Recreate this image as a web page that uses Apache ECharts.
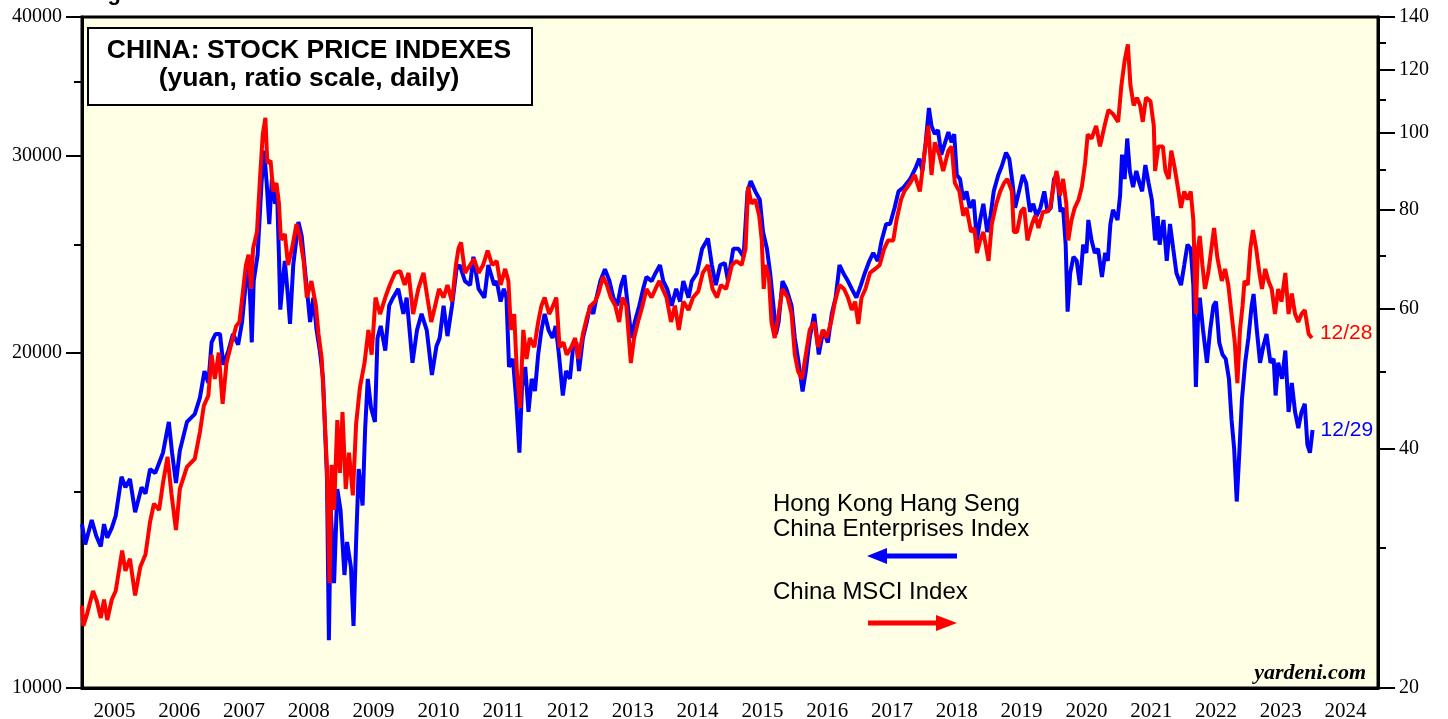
<!DOCTYPE html>
<html>
<head>
<meta charset="utf-8">
<title>China: Stock Price Indexes</title>
<script src="https://cdn.jsdelivr.net/npm/echarts@6/dist/echarts.min.js"></script>
<style>
  html, body { margin: 0; padding: 0; background: #fff; }
  #chart { width: 1448px; height: 719px; }
</style>
</head>
<body>
<div id="chart"></div>
<script>
// Hong Kong Hang Seng China Enterprises Index (left scale), decimal years
var hsceiYears = [
  2005.00, 2005.05, 2005.15, 2005.22, 2005.29, 2005.34, 2005.39, 2005.46, 2005.52, 2005.61, 2005.67, 2005.74, 2005.82, 2005.92, 2005.98,
  2006.05, 2006.13, 2006.19, 2006.25, 2006.34, 2006.39, 2006.45, 2006.51, 2006.62, 2006.74, 2006.82, 2006.89, 2006.95,
  2007.00, 2007.06, 2007.13, 2007.18, 2007.26, 2007.33, 2007.41, 2007.47, 2007.53, 2007.57, 2007.60, 2007.62, 2007.65, 2007.71, 2007.74, 2007.77, 2007.81, 2007.85, 2007.89, 2007.93, 2007.98,
  2008.01, 2008.04, 2008.06, 2008.11, 2008.13, 2008.18, 2008.21, 2008.26, 2008.34, 2008.39, 2008.47, 2008.52, 2008.57, 2008.62, 2008.67, 2008.72, 2008.78, 2008.81, 2008.84, 2008.89, 2008.94, 2008.99,
  2009.05, 2009.09, 2009.15, 2009.19, 2009.23, 2009.27, 2009.33, 2009.37, 2009.41, 2009.46, 2009.52, 2009.56, 2009.61, 2009.68, 2009.74, 2009.80, 2009.88, 2009.96,
  2010.01, 2010.10, 2010.17, 2010.24, 2010.32, 2010.40, 2010.47, 2010.52, 2010.58, 2010.64, 2010.71, 2010.78, 2010.83, 2010.91, 2010.99,
  2011.04, 2011.12, 2011.21, 2011.27, 2011.36, 2011.40, 2011.46, 2011.51, 2011.55, 2011.59, 2011.65, 2011.70, 2011.75, 2011.79, 2011.84, 2011.89, 2011.94, 2011.99,
  2012.04, 2012.09, 2012.14, 2012.20, 2012.26, 2012.31, 2012.36, 2012.42, 2012.47, 2012.53, 2012.58, 2012.63, 2012.67, 2012.73, 2012.79, 2012.84, 2012.89, 2012.94,
  2013.00, 2013.07, 2013.14, 2013.20, 2013.26, 2013.32, 2013.37, 2013.43, 2013.48, 2013.53, 2013.60, 2013.66, 2013.71, 2013.79, 2013.85, 2013.92, 2013.97,
  2014.03, 2014.10, 2014.17, 2014.23, 2014.28, 2014.36, 2014.41, 2014.49, 2014.57, 2014.66, 2014.72, 2014.78, 2014.85, 2014.92, 2014.97,
  2015.05, 2015.13, 2015.21, 2015.27, 2015.32, 2015.39, 2015.46, 2015.51, 2015.57, 2015.62, 2015.67, 2015.71, 2015.75, 2015.81, 2015.87, 2015.95,
  2016.00, 2016.05, 2016.12, 2016.17, 2016.23, 2016.30, 2016.37, 2016.44, 2016.51, 2016.57, 2016.63, 2016.69, 2016.75, 2016.82, 2016.88, 2016.95,
  2017.02, 2017.08, 2017.15, 2017.21, 2017.28, 2017.34, 2017.41, 2017.47, 2017.54, 2017.60, 2017.68, 2017.78, 2017.87, 2017.92, 2017.97,
  2018.02, 2018.07, 2018.11, 2018.16, 2018.21, 2018.26, 2018.32, 2018.37, 2018.42, 2018.46, 2018.50, 2018.55, 2018.60, 2018.65, 2018.70, 2018.76, 2018.81, 2018.86, 2018.91, 2018.97,
  2019.02, 2019.07, 2019.14, 2019.19, 2019.26, 2019.31, 2019.36, 2019.40, 2019.46, 2019.52, 2019.57, 2019.63, 2019.68, 2019.73, 2019.79, 2019.85, 2019.90, 2019.95,
  2020.00, 2020.05, 2020.10, 2020.14, 2020.18, 2020.21, 2020.25, 2020.30, 2020.35, 2020.40, 2020.45, 2020.50, 2020.53, 2020.58, 2020.63, 2020.68, 2020.74, 2020.79, 2020.83, 2020.87, 2020.91, 2020.98,
  2021.02, 2021.05, 2021.09, 2021.13, 2021.17, 2021.22, 2021.27, 2021.32, 2021.36, 2021.41, 2021.46, 2021.51, 2021.56, 2021.60, 2021.63, 2021.69, 2021.74, 2021.79, 2021.84, 2021.89, 2021.96,
  2022.01, 2022.06, 2022.11, 2022.15, 2022.19, 2022.22, 2022.25, 2022.30, 2022.36, 2022.41, 2022.46, 2022.50, 2022.55, 2022.60, 2022.65, 2022.70, 2022.74, 2022.78, 2022.82, 2022.86, 2022.90, 2022.95,
  2023.00, 2023.05, 2023.08, 2023.13, 2023.18, 2023.23, 2023.28, 2023.34, 2023.39, 2023.42, 2023.46, 2023.52, 2023.57, 2023.62, 2023.67, 2023.72, 2023.77, 2023.82, 2023.87, 2023.91, 2023.95, 2023.99
];
var hsceiValues = [
  14030, 13450, 14150, 13690, 13400, 14030, 13640, 13920, 14270, 15470, 15140, 15400, 14380, 15140, 14940,
  15720, 15590, 15920, 16260, 17330, 16260, 15270, 16330, 17330, 17610, 18220, 19250, 18780,
  20420, 20780, 20780, 19500, 20080, 20780, 20330, 21300, 23180, 23760, 22030, 20420, 23180, 24470, 26300, 28380, 30350, 28380, 26080, 28620, 27190,
  27900, 24370, 21850, 23560, 24170, 22400, 21220, 23960, 26190, 25440, 22810, 21300, 22400, 20950, 20080, 18940, 15470, 11040, 14440, 12420, 15080, 14440,
  12630, 13520, 12840, 11370, 13520, 15720, 14580, 17110, 18940, 17840, 17330, 20610, 21130, 20080, 22030, 22400, 22810, 21660,
  22400, 19580, 20950, 21660, 20950, 19090, 20260, 20610, 22030, 20690, 22030, 23760, 23960, 23180, 22990,
  24370, 22810, 22400, 23960, 22990, 23180, 22220, 22810, 22400, 19410, 19740, 18140, 16260, 18630, 19410, 17690, 18940, 18470,
  19920, 20950, 21660, 20950, 20610, 21130, 19920, 18300, 19250, 18940, 20260, 20420, 19250, 20610, 21300, 22030, 21660, 22400,
  23180, 23760, 23180, 22400, 22030, 22990, 23460, 21840, 20610, 21300, 22030, 22810, 23380, 23180, 23560, 23960, 23180,
  22810, 22030, 22810, 22220, 23180, 22400, 23180, 23560, 24780, 25310, 23960, 22990, 23960, 24060, 23180,
  24780, 24780, 24370, 27900, 28500, 27900, 27420, 25650, 24780, 23560, 22030, 20780, 21300, 23180, 22810, 22030,
  20610, 19740, 18450, 19250, 20610, 21660, 19920, 20950, 20420, 21660, 22400, 23960, 23560, 23180, 22810, 22400,
  22990, 23560, 24160, 24570, 24160, 25210, 26080, 26080, 26970, 27900, 28140, 28620, 29340, 29840, 29100,
  30870, 33150, 31930, 31410, 31670, 30100, 30870, 31530, 30870, 31410, 28860, 28620, 27420, 27900, 26970, 27420, 25210, 26300, 27190, 25650,
  26510, 27900, 28860, 29340, 30220, 29840, 28380, 26970, 27900, 28860, 28380, 26750, 27190, 26510, 26970, 27900, 26750, 26970,
  28620, 28860, 26750, 26970, 24990, 21760, 23560, 24370, 24170, 22990, 24990, 24570, 26300, 25210, 24570, 24780, 23380, 24570, 24170, 26080, 26860, 26300,
  27660, 30100, 28620, 31120, 29100, 28140, 29100, 28380, 27900, 29460, 28380, 27420, 25210, 26510, 24990, 26300, 24170, 26080, 24780, 23560, 22990,
  23960, 24990, 24780, 22990, 18630, 21300, 22400, 20950, 19580, 20950, 22030, 22220, 20420, 19920, 19740, 18940, 17400, 16400, 14700, 16260, 18140, 19580,
  20610, 22030, 22570, 20950, 19580, 20260, 20780, 19580, 19740, 18300, 19580, 18940, 20080, 17690, 18780, 17690, 17110, 17690, 17990, 16530, 16260, 17040
];

// China MSCI Index (right scale), decimal years
var msciYears = [
  2005.00, 2005.02, 2005.07, 2005.17, 2005.23, 2005.29, 2005.34, 2005.39, 2005.46, 2005.52, 2005.62, 2005.67, 2005.74, 2005.82, 2005.90, 2005.98,
  2006.05, 2006.11, 2006.19, 2006.25, 2006.32, 2006.38, 2006.45, 2006.51, 2006.62, 2006.74, 2006.82, 2006.88, 2006.95,
  2007.00, 2007.05, 2007.11, 2007.17, 2007.23, 2007.31, 2007.38, 2007.43, 2007.48, 2007.53, 2007.57, 2007.61, 2007.64, 2007.70, 2007.75, 2007.79, 2007.83, 2007.86, 2007.91, 2007.95,
  2008.00, 2008.04, 2008.07, 2008.13, 2008.18, 2008.24, 2008.31, 2008.36, 2008.42, 2008.47, 2008.54, 2008.61, 2008.65, 2008.70, 2008.74, 2008.78, 2008.82, 2008.85, 2008.89, 2008.94, 2008.98,
  2009.02, 2009.07, 2009.12, 2009.18, 2009.23, 2009.29, 2009.36, 2009.42, 2009.47, 2009.53, 2009.60, 2009.68, 2009.75, 2009.83, 2009.91, 2009.98,
  2010.04, 2010.11, 2010.19, 2010.27, 2010.33, 2010.39, 2010.45, 2010.51, 2010.58, 2010.64, 2010.71, 2010.77, 2010.81, 2010.85, 2010.91, 2010.99,
  2011.05, 2011.12, 2011.19, 2011.26, 2011.33, 2011.40, 2011.46, 2011.53, 2011.58, 2011.62, 2011.67, 2011.71, 2011.76, 2011.81, 2011.86, 2011.91, 2011.98,
  2012.04, 2012.09, 2012.14, 2012.21, 2012.27, 2012.32, 2012.37, 2012.43, 2012.48, 2012.55, 2012.61, 2012.66, 2012.73, 2012.79, 2012.85, 2012.92, 2012.97,
  2013.04, 2013.10, 2013.16, 2013.23, 2013.29, 2013.34, 2013.40, 2013.47, 2013.52, 2013.58, 2013.65, 2013.71, 2013.79, 2013.85, 2013.91, 2013.96,
  2014.02, 2014.09, 2014.15, 2014.21, 2014.28, 2014.36, 2014.43, 2014.51, 2014.58, 2014.66, 2014.73, 2014.80, 2014.86, 2014.94,
  2015.03, 2015.10, 2015.18, 2015.24, 2015.28, 2015.33, 2015.39, 2015.45, 2015.49, 2015.52, 2015.55, 2015.60, 2015.64, 2015.69, 2015.75, 2015.81, 2015.89, 2015.95,
  2016.00, 2016.05, 2016.11, 2016.17, 2016.23, 2016.30, 2016.36, 2016.43, 2016.49, 2016.56, 2016.62, 2016.69, 2016.76, 2016.82, 2016.88, 2016.93, 2016.98,
  2017.03, 2017.09, 2017.16, 2017.24, 2017.31, 2017.38, 2017.44, 2017.52, 2017.57, 2017.64, 2017.69, 2017.78, 2017.85, 2017.93, 2017.99,
  2018.06, 2018.11, 2018.16, 2018.23, 2018.29, 2018.37, 2018.42, 2018.47, 2018.54, 2018.60, 2018.65, 2018.72, 2018.77, 2018.81, 2018.86, 2018.91, 2018.99,
  2019.04, 2019.11, 2019.17, 2019.23, 2019.28, 2019.35, 2019.38, 2019.43, 2019.49, 2019.54, 2019.59, 2019.66, 2019.71, 2019.76, 2019.83, 2019.89, 2019.94,
  2020.00, 2020.04, 2020.09, 2020.14, 2020.19, 2020.22, 2020.27, 2020.32, 2020.38, 2020.43, 2020.48, 2020.52, 2020.58, 2020.65, 2020.71, 2020.78, 2020.84, 2020.91, 2020.99,
  2021.04, 2021.09, 2021.14, 2021.18, 2021.23, 2021.28, 2021.33, 2021.37, 2021.42, 2021.49, 2021.54, 2021.56, 2021.61, 2021.68, 2021.72, 2021.77, 2021.81, 2021.86, 2021.91, 2021.96,
  2022.01, 2022.06, 2022.11, 2022.15, 2022.19, 2022.22, 2022.25, 2022.29, 2022.33, 2022.38, 2022.42, 2022.47, 2022.52, 2022.59, 2022.64, 2022.69, 2022.74, 2022.79, 2022.83, 2022.87, 2022.91, 2022.94, 2022.99,
  2023.03, 2023.07, 2023.12, 2023.17, 2023.21, 2023.26, 2023.31, 2023.36, 2023.41, 2023.46, 2023.51, 2023.57, 2023.62, 2023.67, 2023.72, 2023.77, 2023.82, 2023.87, 2023.93, 2023.98
];
var msciValues = [
  25.39, 23.94, 24.65, 26.50, 25.70, 24.50, 25.85, 24.36, 25.85, 26.50, 29.80, 28.09, 29.10, 26.16, 28.42, 29.45,
  32.37, 34.13, 33.52, 36.24, 39.11, 35.16, 31.63, 35.62, 37.97, 38.88, 42.01, 45.35, 46.70,
  52.58, 49.00, 52.89, 45.61, 51.33, 54.49, 57.15, 57.81, 62.80, 68.20, 70.28, 63.62, 71.53, 75.05, 88.55, 99.7, 104.5, 91.67, 92.27, 84.42,
  86.51, 81.46, 73.33, 74.61, 68.20, 71.53, 76.81, 74.18, 69.04, 62.06, 65.11, 60.61, 55.83, 51.96, 44.52, 37.75, 27.12, 38.19, 33.52, 43.50, 37.31,
  44.52, 35.62, 39.56, 34.96, 43.00, 47.87, 51.33, 56.49, 52.58, 62.06, 59.16, 62.06, 64.36, 66.65, 67.00, 64.36,
  66.65, 59.16, 63.62, 66.65, 62.06, 57.81, 60.61, 63.62, 62.06, 64.36, 61.33, 68.20, 71.53, 72.82, 66.65, 68.20,
  69.44, 66.65, 68.20, 71.11, 68.20, 68.99, 64.36, 67.43, 65.11, 56.49, 59.16, 50.15, 45.07, 56.49, 51.93, 55.19, 53.74,
  57.81, 60.61, 62.06, 59.16, 60.61, 62.06, 53.74, 54.49, 52.58, 53.74, 55.19, 51.93, 55.83, 58.49, 60.61, 61.33, 62.80,
  65.88, 64.36, 62.06, 60.61, 57.81, 62.06, 60.61, 51.33, 55.19, 57.81, 60.61, 63.62, 62.06, 63.62, 65.11, 63.62,
  62.06, 57.81, 60.61, 56.49, 61.33, 59.86, 62.06, 63.17, 66.65, 68.20, 63.62, 62.06, 64.36, 63.62,
  68.20, 68.99, 68.20, 71.53, 85.57, 81.46, 82.46, 78.70, 73.24, 63.62, 68.20, 65.88, 57.81, 55.19, 59.16, 63.62, 62.06, 59.16,
  52.58, 50.15, 49.00, 52.58, 56.49, 57.81, 53.74, 56.49, 55.19, 57.81, 61.33, 64.36, 63.62, 62.06, 59.86, 61.33, 57.47,
  62.06, 63.62, 66.65, 67.43, 68.20, 71.53, 73.24, 73.24, 77.71, 82.46, 84.42, 86.51, 88.55, 84.42, 92.80,
  102.1, 88.55, 97.3, 93.9, 89.56, 95.0, 96.2, 86.51, 84.42, 78.70, 80.5, 75.05, 75.95, 70.63, 73.24, 75.05, 69.04,
  76.81, 81.46, 84.42, 86.51, 87.54, 84.42, 75.05, 75.05, 79.57, 80.5, 73.24, 76.81, 78.70, 75.95, 79.57, 79.57, 80.5,
  86.51, 89.56, 83.42, 87.54, 81.46, 73.24, 77.71, 80.5, 82.46, 85.57, 91.7, 99.6, 98.4, 102.1, 96.2, 102.1, 106.9, 105.7, 103.3,
  114.8, 123.3, 129.3, 114.8, 108.3, 110.8, 108.3, 103.3, 110.8, 109.6, 102.1, 89.56, 96.2, 96.2, 89.56, 87.54, 95.0, 90.6, 85.57, 80.5,
  84.42, 82.46, 84.42, 77.71, 59.16, 71.53, 74.18, 68.20, 63.62, 66.65, 70.63, 75.95, 69.77, 65.11, 67.43, 64.36, 59.16, 54.49, 48.43, 56.49, 60.61, 65.11, 64.36,
  71.53, 75.49, 71.53, 66.65, 63.62, 67.43, 65.11, 63.62, 59.16, 63.62, 61.33, 66.65, 59.16, 62.80, 59.16, 57.81, 59.16, 59.86, 55.83, 55.19
];

var yearLabels = ['2005', '2006', '2007', '2008', '2009', '2010', '2011', '2012', '2013', '2014',
                  '2015', '2016', '2017', '2018', '2019', '2020', '2021', '2022', '2023', '2024'];
var leftMajor = [10000, 20000, 30000, 40000];
var leftMinor = [15000, 25000, 35000];
var rightMajor = [20, 40, 60, 80, 100, 120, 140];
var rightMinor = [30, 50, 70, 90, 110, 130];
var lastDates = { hscei: '12/29', msci: '12/28' };

function zip(xs, ys) {
  return xs.map(function (x, i) { return [x, ys[i]]; });
}

// plain numbers, no thousands separator
function plainNumber(v) {
  return String(Math.round(v));
}

var serifFont = '"Liberation Serif", "Times New Roman", serif';
var sansFont = '"Liberation Sans", Arial, sans-serif';

var dom = document.getElementById('chart');
var myChart = echarts.init(dom, null, { renderer: 'canvas' });

var option = {
  animation: false,
  backgroundColor: '#ffffff',
  grid: {
    left: 82,
    right: 70,
    top: 17,
    bottom: 31,
    outerBoundsMode: 'none',
    show: true,
    backgroundColor: '#ffffe5',
    borderColor: '#000',
    borderWidth: 3
  },
  xAxis: [
    {
      type: 'value',
      min: 2005,
      max: 2025,
      show: false
    },
    {
      type: 'category',
      position: 'bottom',
      data: yearLabels,
      axisLine: { lineStyle: { color: '#000', width: 3 } },
      axisTick: { length: 18, interval: 0, lineStyle: { color: '#000', width: 3 } },
      axisLabel: { interval: 0, margin: 13, color: '#000', fontSize: 21, fontFamily: serifFont },
      splitLine: { show: false }
    }
  ],
  yAxis: [
    {
      type: 'log',
      logBase: 10,
      min: 10000,
      max: 40000,
      position: 'left',
      axisLine: { show: true, lineStyle: { color: '#000', width: 3 } },
      axisTick: { show: true, length: 16, customValues: leftMajor, lineStyle: { color: '#000', width: 2 } },
      axisLabel: { customValues: leftMajor, formatter: plainNumber, margin: 20, color: '#000', fontSize: 20, fontFamily: serifFont },
      splitLine: { show: false }
    },
    {
      type: 'log',
      logBase: 10,
      min: 10000,
      max: 40000,
      position: 'left',
      axisLine: { show: false },
      axisTick: { show: true, length: 8, customValues: leftMinor, lineStyle: { color: '#000', width: 2 } },
      axisLabel: { show: false },
      splitLine: { show: false }
    },
    {
      type: 'log',
      logBase: 10,
      min: 20,
      max: 140,
      position: 'right',
      axisLine: { show: true, lineStyle: { color: '#000', width: 3 } },
      axisTick: { show: true, length: 17, customValues: rightMajor, lineStyle: { color: '#000', width: 2 } },
      axisLabel: { customValues: rightMajor, formatter: plainNumber, margin: 21, color: '#000', fontSize: 20, fontFamily: serifFont },
      splitLine: { show: false }
    },
    {
      type: 'log',
      logBase: 10,
      min: 20,
      max: 140,
      position: 'right',
      axisLine: { show: false },
      axisTick: { show: true, length: 8, customValues: rightMinor, lineStyle: { color: '#000', width: 2 } },
      axisLabel: { show: false },
      splitLine: { show: false }
    }
  ],
  series: [
    {
      name: 'Hong Kong Hang Seng China Enterprises Index',
      type: 'line',
      xAxisIndex: 0,
      yAxisIndex: 0,
      data: zip(hsceiYears, hsceiValues),
      showSymbol: false,
      z: 2,
      lineStyle: { color: '#0000ff', width: 4 },
      endLabel: {
        show: true,
        formatter: function () { return lastDates.hscei; },
        color: '#0000ff',
        fontSize: 21,
        fontFamily: sansFont,
        distance: 8
      }
    },
    {
      name: 'China MSCI Index',
      type: 'line',
      xAxisIndex: 0,
      yAxisIndex: 2,
      data: zip(msciYears, msciValues),
      showSymbol: false,
      z: 3,
      lineStyle: { color: '#ff0000', width: 4 },
      endLabel: {
        show: true,
        formatter: function () { return lastDates.msci; },
        color: '#ff0000',
        fontSize: 21,
        fontFamily: sansFont,
        distance: 8,
        offset: [0, -5]
      }
    }
  ],
  graphic: [
    // cut-off figure caption at the very top
    {
      type: 'text', left: 88, top: -17,
      style: { text: 'Figure 1.', font: 'bold 22px ' + sansFont, fill: '#000' }
    },
    // title box
    {
      type: 'rect', left: 87, top: 27, z: 10,
      shape: { width: 444, height: 77 },
      style: { fill: '#fff', stroke: '#000', lineWidth: 2 }
    },
    {
      type: 'text', x: 309, y: 37, z: 11,
      style: {
        text: 'CHINA: STOCK PRICE INDEXES\n(yuan, ratio scale, daily)',
        font: 'bold 26.5px ' + sansFont,
        textAlign: 'center',
        lineHeight: 28,
        fill: '#000'
      }
    },
    // legend notes and arrows
    {
      type: 'text', x: 773, y: 492, z: 10,
      style: {
        text: 'Hong Kong Hang Seng\nChina Enterprises Index',
        font: '24px ' + sansFont,
        lineHeight: 25,
        fill: '#000'
      }
    },
    {
      type: 'line', z: 10,
      shape: { x1: 957, y1: 556, x2: 882, y2: 556 },
      style: { stroke: '#0000ff', lineWidth: 5 }
    },
    {
      type: 'polygon', z: 10,
      shape: { points: [[867, 556], [887, 548], [887, 564]] },
      style: { fill: '#0000ff' }
    },
    {
      type: 'text', x: 773, y: 580, z: 10,
      style: { text: 'China MSCI Index', font: '24px ' + sansFont, fill: '#000' }
    },
    {
      type: 'line', z: 10,
      shape: { x1: 868, y1: 623, x2: 940, y2: 623 },
      style: { stroke: '#ff0000', lineWidth: 5 }
    },
    {
      type: 'polygon', z: 10,
      shape: { points: [[957, 623], [936, 615], [936, 631]] },
      style: { fill: '#ff0000' }
    },
    // source
    {
      type: 'text', x: 1366, y: 662, z: 10,
      style: {
        text: 'yardeni.com',
        font: 'italic bold 22px ' + serifFont,
        textAlign: 'right',
        fill: '#000'
      }
    }
  ]
};

if (option && typeof option === 'object') {
  myChart.setOption(option);
}

window.addEventListener('resize', myChart.resize);
</script>
</body>
</html>
